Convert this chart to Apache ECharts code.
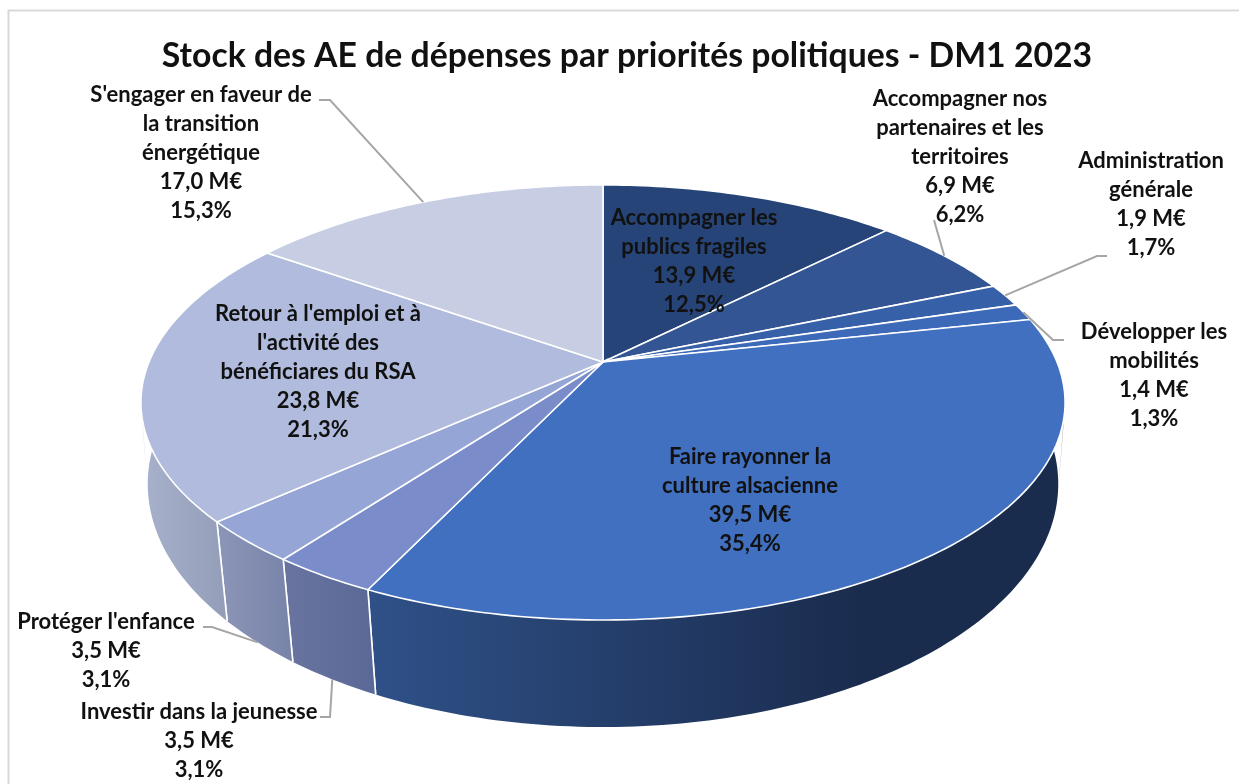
<!DOCTYPE html>
<html><head><meta charset="utf-8">
<style>html,body{margin:0;padding:0;background:#fff}#c{width:1239px;height:784px}</style>
<script src="https://cdn.jsdelivr.net/npm/echarts@6/dist/echarts.min.js"></script>
</head><body><div id="c"></div>
<script>
const chartTitle = "Stock des AE de dépenses par priorités politiques - DM1 2023";
const categories = [
  "Accompagner les\npublics fragiles",
  "Accompagner nos\npartenaires et les\nterritoires",
  "Administration\ngénérale",
  "Développer les\nmobilités",
  "Faire rayonner la\nculture alsacienne",
  "Investir dans la jeunesse",
  "Protéger l'enfance",
  "Retour à l'emploi et à\nl'activité des\nbénéficiares du RSA",
  "S'engager en faveur de\nla transition\nénergétique"
];
const valuesME = [13.9, 6.9, 1.9, 1.4, 39.5, 3.5, 3.5, 23.8, 17.0];
const percents = [12.5, 6.2, 1.7, 1.3, 35.4, 3.1, 3.1, 21.3, 15.3];

// presentation, kept apart from the data
const topColors = ["#264478","#335593","#3660a8","#3c6ab9","#4170c0","#7a8dca","#95a6d6","#b0bbdd","#c7cde3"];
const wallStops = [
  [[603,"#1c3059"],[900,"#1c3059"]],
  [[800,"#22396a"],[1000,"#22396a"]],
  [[800,"#22396a"],[1000,"#22396a"]],
  [[800,"#22396a"],[1000,"#22396a"]],
  [[370,"#2f5188"],[860,"#1a2c4e"]],
  [[290,"#68749f"],[375,"#5a6897"]],
  [[224,"#8a94b6"],[292,"#7883a9"]],
  [[146,"#a6b0cb"],[224,"#949eb9"]],
  [[146,"#a6b0cb"],[224,"#949eb9"]]
];
const labelAnchors = [[694,218],[960,99],[1151,161],[1154,332],[750,457],[199,712],[106,622],[318,314],[201,95]];
const leaderKnees = [null,[[934,220]],[[1107,256],[1097,256]],[[1064,340],[1053,340]],null,[[320,717],[330,717]],[[203,627],[212,627]],null,[[319,100],[330,100]]];
const leaderOnBase = [false,false,false,false,false,true,true,false,false];

const topDisc  = {cx:603, y0:362,   Kx:454, Ky:210,   p:0.186};
const baseDisc = {cx:603, y0:443.9, Kx:449, Ky:236.4, p:0.165};
const project = (d, th) => {
  const x = Math.sin(th), z = -Math.cos(th), w = 1 - d.p * z;
  return [d.cx + d.Kx * x / w, d.y0 + d.Ky * z / w];
};
const total = valuesME.reduce((a, b) => a + b, 0);
const startFrac = []; valuesME.reduce((s, v, i) => (startFrac[i] = s / total, s + v), 0);
const angleRange = i => [startFrac[i] * 2 * Math.PI, (startFrac[i] + valuesME[i] / total) * 2 * Math.PI];
const arc = (d, a, b) => {
  const n = Math.max(2, Math.ceil((b - a) / (Math.PI / 180))), pts = [];
  for (let k = 0; k <= n; k++) pts.push(project(d, a + (b - a) * k / n));
  return pts;
};
const fmt = v => v.toFixed(1).replace('.', ',');

// the outline of the wall runs straight from the rim's widest point to the base curve
const sideFlank = (a, b, sign) => {
  const topArc = arc(topDisc, a, b), baseArc = arc(baseDisc, a, b);
  const R = topArc.reduce((m, p) => (p[0] - m[0]) * sign > 0 ? p : m);
  let best = -1, T = null;
  baseArc.forEach((p, k) => {
    if (p[1] <= R[1]) return;
    const s = (p[0] - R[0]) * sign / (p[1] - R[1]);
    if (T === null || s > best) { best = s; T = k; }
  });
  return [R, baseArc[T], topArc[T]];
};
const renderWall = (params, api) => {
  const i = params.dataIndex, [a, b] = angleRange(i), s = wallStops[i];
  const fill = new echarts.graphic.LinearGradient(s[0][0],0,s[1][0],0,[{offset:0,color:s[0][1]},{offset:1,color:s[1][1]}],true);
  const children = [];
  const has = t => a <= t && t <= b;
  if (has(Math.PI * 0.55)) children.push({type:'polygon', shape:{points:sideFlank(a, b, 1)}, style:{fill}});
  if (has(Math.PI * 1.5)) children.push({type:'polygon', shape:{points:sideFlank(a, b, -1)}, style:{fill}});
  children.push({ type:'polygon',
    shape:{points: arc(topDisc, a, b).concat(arc(baseDisc, a, b).reverse())},
    style:{ fill } });
  [a, b].forEach(t => children.push({ type:'polyline',
    shape:{points:[project(topDisc, t), project(baseDisc, t)]},
    style:{ fill:null, stroke:'#fff', lineWidth:1.6 } }));
  return { type:'group', children };
};
const renderTop = (params, api) => {
  const i = params.dataIndex, [a, b] = angleRange(i);
  return { type:'polygon',
    shape:{points: [[topDisc.cx, topDisc.y0]].concat(arc(topDisc, a, b))},
    style:{ fill:topColors[i], stroke:'#fff', lineWidth:1.6 } };
};
const renderLabel = (params, api) => {
  const i = params.dataIndex, [a, b] = angleRange(i), children = [];
  if (leaderKnees[i]) {
    const end = project(leaderOnBase[i] ? baseDisc : topDisc, (a + b) / 2);
    children.push({ type:'polyline', shape:{points: leaderKnees[i].concat([end])},
      style:{ fill:null, stroke:'#a6a6a6', lineWidth:2 } });
  }
  const lines = categories[i].split('\n').concat([fmt(api.value(0)) + ' M€', fmt(percents[i]) + '%']);
  lines.forEach((t, k) => children.push({ type:'text', style:{
      text:t, x:labelAnchors[i][0], y:labelAnchors[i][1] + k * 28.9,
      align:'center', verticalAlign:'middle', fill:'#111',
      font:'bold 22px Lato' } }));
  return { type:'group', children };
};
const rows = valuesME.map((v, i) => ({ value:[v, i], name:categories[i].replace(/\n/g, ' ') }));

const chart = echarts.init(document.getElementById('c'), null, {renderer:'canvas'});
chart.setOption({
  animation:false,
  backgroundColor:'#fff',
  title:{ text:chartTitle, left:622, top:34, textAlign:'center',
    textStyle:{ fontFamily:'Lato', fontWeight:'bold', fontSize:33.75, color:'#111' } },
  graphic:[{ type:'polyline', silent:true, shape:{points:[[8.5,800],[8.5,10.5],[1250,10.5]]},
    style:{ fill:null, stroke:'#d9d9d9', lineWidth:2 } }],
  series:[
    { type:'custom', coordinateSystem:'none', name:'walls', data:rows, renderItem:renderWall, z:1, silent:true },
    { type:'custom', coordinateSystem:'none', name:'tops', data:rows, renderItem:renderTop, z:2, silent:true },
    { type:'custom', coordinateSystem:'none', name:'labels', data:rows, renderItem:renderLabel, z:3, silent:true }
  ]
});
</script></body></html>
